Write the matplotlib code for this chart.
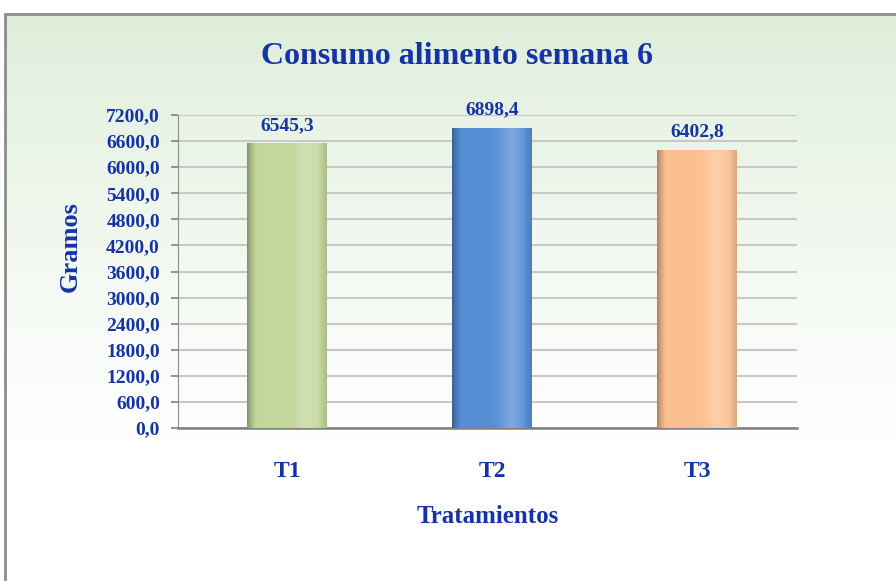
import numpy as np
import matplotlib
matplotlib.use("Agg")
import matplotlib.pyplot as plt
import matplotlib.colors as mcolors
from matplotlib.patches import Rectangle

# --- Datos ---------------------------------------------------------------
tratamientos = ["T1", "T2", "T3"]
consumo = [6545.3, 6898.4, 6402.8]
colores = ["#C3D69B", "#558ED5", "#FAC090"]
y_ticks = [0, 600, 1200, 1800, 2400, 3000, 3600, 4200, 4800, 5400, 6000, 6600, 7200]

AZUL = "#1433A6"
plt.rcParams["font.family"] = ["Liberation Serif", "DejaVu Serif"]
plt.rcParams["font.weight"] = "bold"

fig = plt.figure(figsize=(8.96, 5.81), dpi=100)
fig.patch.set_facecolor("white")

# fondo degradado verde claro -> blanco dentro del marco
W, H = 896, 581
fondo = fig.add_axes([5 / W, 0, 1 - 5 / W, (H - 14) / H], zorder=-2)
v = np.linspace(0, 1, 256)[:, None]
arriba = np.array([0.87, 0.93, 0.85])
abajo = np.array([1.0, 1.0, 1.0])
mezcla = np.clip(v / 0.75, 0, 1) ** 0.8
grad = arriba[None, None, :] * (1 - mezcla[..., None]) + abajo[None, None, :] * mezcla[..., None]
grad = np.repeat(grad, 4, axis=1)
fondo.imshow(grad, aspect="auto", extent=(0, 1, 0, 1), origin="upper")
fondo.axis("off")
fig.patches.append(Rectangle((5 / W, -0.01), 1.0, (H - 14) / H + 0.01,
                             transform=fig.transFigure, fill=False,
                             edgecolor="#8C8C8C", linewidth=2))

ax = fig.add_axes([178 / W, 1 - 428 / H, (797 - 178) / W, (428 - 115) / H])
ax.set_facecolor("none")
x = np.arange(len(tratamientos))
barras = ax.bar(x, consumo, width=0.39, color=colores, zorder=3)

# sombreado cilindrico suave de cada barra
t = np.linspace(0, 1, 128)
for barra, c in zip(barras, colores):
    base = np.array(mcolors.to_rgb(c))
    brillo = 0.22 * np.exp(-((t - 0.75) / 0.14) ** 2)
    oscuro = 1 - 0.32 * np.clip(1 - t / 0.12, 0, 1) ** 1.5 - 0.12 * np.clip((t - 0.9) / 0.1, 0, 1)
    rgb = (base[None, :] + (1 - base[None, :]) * brillo[:, None]) * oscuro[:, None]
    img = np.clip(rgb, 0, 1)[None, :, :]
    im = ax.imshow(img, aspect="auto", zorder=3.5,
                   extent=(barra.get_x(), barra.get_x() + barra.get_width(),
                           0, barra.get_height()))
    im.set_clip_path(barra)

for xi, val in zip(x, consumo):
    ax.annotate(f"{val:.1f}".replace(".", ","), (xi, val), xytext=(0, 7),
                textcoords="offset points", ha="center", va="bottom",
                color=AZUL, fontsize=14, fontweight="bold")

ax.set_xlim(-0.532, 2.488)
ax.set_ylim(0, 7200)
ax.set_yticks(y_ticks)
ax.set_yticklabels([f"{v:.1f}".replace(".", ",") for v in y_ticks])
ax.set_xticks(x)
ax.set_xticklabels(tratamientos)
ax.tick_params(axis="y", colors="#808080", labelcolor=AZUL, labelsize=14,
               length=5, width=1.2, pad=8)
ax.tick_params(axis="x", length=0, labelcolor=AZUL, labelsize=17, pad=24)
ax.grid(axis="y", color="#C8C8C8", linewidth=1.5, zorder=0)
ax.set_axisbelow(True)
for lado in ["top", "right"]:
    ax.spines[lado].set_visible(False)
ax.spines["left"].set_color("#8C8C8C")
ax.spines["bottom"].set_color("#808080")
ax.spines["bottom"].set_linewidth(1.8)

ax.set_ylabel("Gramos", color=AZUL, fontsize=19, fontweight="bold")
ax.yaxis.set_label_coords((82 - 178) / (797 - 178), (428 - 247) / (428 - 115))
ax.set_xlabel("Tratamientos", color=AZUL, fontsize=18, fontweight="bold", labelpad=16)
fig.text(457 / W, 1 - 57 / H, "Consumo alimento semana 6", ha="center", va="center",
         color=AZUL, fontsize=23, fontweight="bold")

fig.savefig("out.png", dpi=100)
